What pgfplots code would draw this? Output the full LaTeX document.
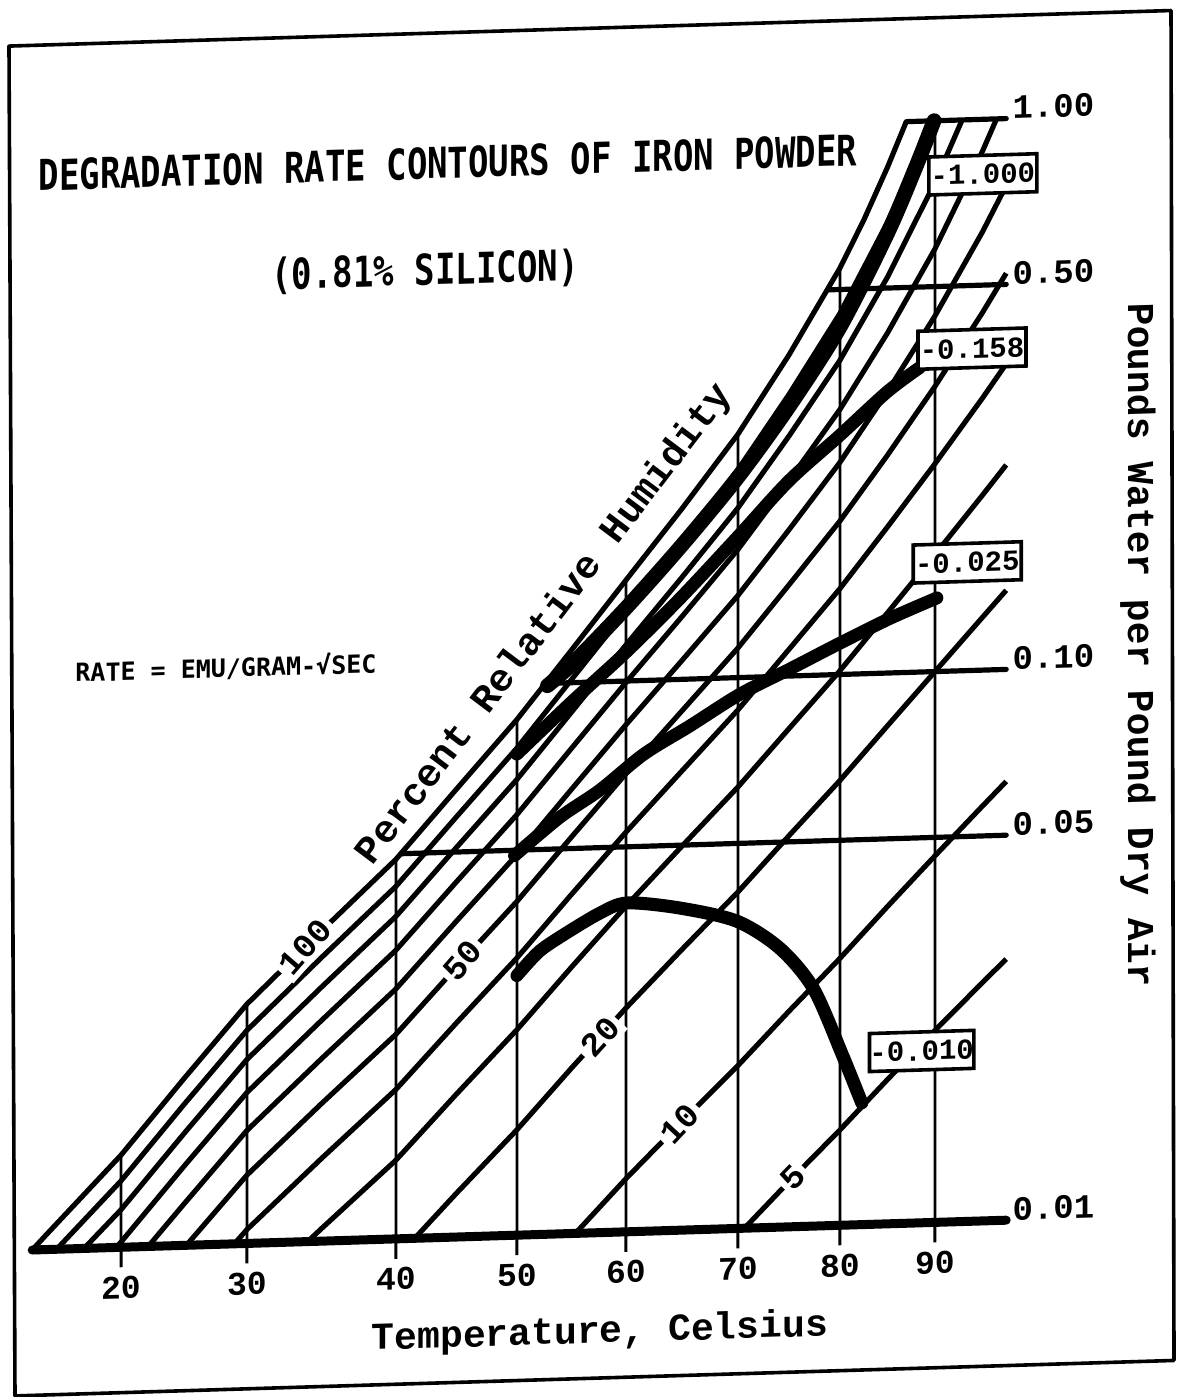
\documentclass[border=0pt]{standalone}
\usepackage{fontspec}
\usepackage{graphicx}
\usepackage{pgfplots}
\pgfplotsset{compat=1.18}
\newfontfamily\lmono{Liberation Mono}
\newfontfamily\dvmono{DejaVu Sans Mono}
\tikzset{
  rh/.style={black, line width=2.6pt, line join=round},
  vg/.style={black, line width=1.4pt},
  hg/.style={black, line width=2.6pt, line cap=round},
  ct/.style={black, line width=6.5pt, line cap=round, line join=round, smooth},
  bx/.style={draw, fill=white, line width=1.8pt, inner sep=0pt, minimum width=54pt, minimum height=19pt, font=\lmono\bfseries\fontsize{14.5}{14.5}\selectfont},
  rl/.style={fill=white, inner sep=2pt, font=\lmono\bfseries\fontsize{17}{17}\selectfont},
  yl/.style={anchor=west, inner sep=0pt, xshift=3pt, yshift=5.5pt, font=\lmono\bfseries\fontsize{17}{17}\selectfont},
}
\begin{document}
\begin{tikzpicture}
\useasboundingbox (0,0) rectangle (594.5pt,-698.5pt);
\begin{scope}[transform canvas={cm={1,0.0306,0,1,(0pt,-9.18pt)}}]
\begin{axis}[
  at={(16.1pt,-616.3pt)}, anchor=south west,
  scale only axis, width=487pt, height=550.8pt,
  x coord trafo/.code={\pgfmathparse{121+12.6*(#1-20)+2.3*min(#1-20,0)+2.3*max(#1-30,0)-2.8*max(#1-40,0)-1.2*max(#1-50,0)+0.3*max(#1-60,0)-1.0*max(#1-70,0)-0.7*max(#1-80,0)}},
  xmin=14.04, xmax=97.5, ymode=log, ymin=0.01, ymax=1,
  axis x line=bottom, axis y line=none,
  x axis line style={-, line width=4.5pt, line cap=round},
  xtick={20,30,40,50,60,70,80,90}, xticklabels={20,30,40,50,60,70,80,90},
  tick align=outside, major tick length=10pt,
  xtick style={line width=1.5pt, black},
  xticklabel style={font=\lmono\bfseries\fontsize{16.5}{16.5}\selectfont, yshift=-1pt},
  clip=false,
]
% relative humidity lines (100, 90, ..., 5 percent)
\addplot[rh] coordinates {(14.04,0.01) (15,0.01065) (20,0.0147) (25,0.02008) (30,0.0272) (35,0.03658) (40,0.04889) (45,0.06505) (50,0.08635) (55,0.1146) (60,0.1525) (65,0.2041) (70,0.2767) (75,0.3828) (80,0.547) (82.5,0.6659) (85,0.8283) (86.98,1)};
\addplot[rh] coordinates {(15.68,0.01) (20,0.0132) (25,0.01802) (30,0.02438) (35,0.03273) (40,0.04366) (45,0.05794) (50,0.07665) (55,0.1013) (60,0.1339) (65,0.1778) (70,0.2385) (75,0.3245) (80,0.4525) (85,0.6579) (87.5,0.812) (89.7,1)};
\addplot[rh] coordinates {(17.52,0.01) (20,0.0117) (25,0.01596) (30,0.02158) (35,0.02892) (40,0.03851) (45,0.05097) (50,0.06722) (55,0.08841) (60,0.1163) (65,0.1532) (70,0.2033) (75,0.2727) (80,0.3721) (85,0.5233) (90,0.7729) (92.86,1)};
\addplot[rh] coordinates {(19.66,0.01) (20,0.01022) (25,0.01392) (30,0.0188) (35,0.02516) (40,0.03344) (45,0.04415) (50,0.05803) (55,0.07601) (60,0.09941) (65,0.13) (70,0.1709) (75,0.2262) (80,0.3029) (85,0.4143) (90,0.5854) (95,0.875) (96.48,1)};
\addplot[rh] coordinates {(22.16,0.01) (25,0.01189) (30,0.01604) (35,0.02144) (40,0.02844) (45,0.03746) (50,0.04909) (55,0.06404) (60,0.08331) (65,0.1082) (70,0.141) (75,0.1843) (80,0.2428) (85,0.3243) (90,0.4423) (95,0.6246) (97.5,0.756)};
\addplot[rh] coordinates {(25.19,0.01) (30,0.01331) (35,0.01777) (40,0.02352) (45,0.03091) (50,0.04037) (55,0.05246) (60,0.06791) (65,0.08765) (70,0.1132) (75,0.1464) (80,0.19) (85,0.2486) (90,0.3295) (95,0.4457) (97.5,0.5239)};
\addplot[rh] coordinates {(29,0.01) (30,0.0106) (35,0.01413) (40,0.01868) (45,0.02448) (50,0.03188) (55,0.04127) (60,0.05317) (65,0.0682) (70,0.08737) (75,0.1118) (80,0.1432) (85,0.1842) (90,0.2384) (95,0.3118) (97.5,0.3587)};
\addplot[rh] coordinates {(34.07,0.01) (35,0.01054) (40,0.0139) (45,0.01818) (50,0.02361) (55,0.03045) (60,0.03904) (65,0.04979) (70,0.06331) (75,0.08026) (80,0.1016) (85,0.1286) (90,0.1631) (95,0.2078) (97.5,0.2351)};
\addplot[rh] coordinates {(41.55,0.01) (45,0.01201) (50,0.01554) (55,0.01997) (60,0.02549) (65,0.03233) (70,0.04082) (75,0.0513) (80,0.06422) (85,0.08021) (90,0.1) (95,0.1247) (97.5,0.1392)};
\addplot[rh] coordinates {(55.36,0.01) (60,0.01249) (65,0.01575) (70,0.01976) (75,0.02463) (80,0.03053) (85,0.03768) (90,0.04629) (95,0.05665) (97.5,0.0626)};
\addplot[rh] coordinates {(70.64,0.01) (75,0.01208) (80,0.0149) (85,0.01828) (90,0.02231) (95,0.02709) (97.5,0.0298)};
% temperature lines
\addplot[vg] coordinates {(20,0.01) (20,0.0147)};
\addplot[vg] coordinates {(30,0.01) (30,0.0272)};
\addplot[vg] coordinates {(40,0.01) (40,0.04889)};
\addplot[vg] coordinates {(50,0.01) (50,0.08635)};
\addplot[vg] coordinates {(60,0.01) (60,0.1525)};
\addplot[vg] coordinates {(70,0.01) (70,0.2767)};
\addplot[vg] coordinates {(80,0.01) (80,0.547)};
\addplot[vg] coordinates {(90,0.01) (90,1)};
% moisture lines
\addplot[hg] coordinates {(40.4,0.05) (97.5,0.05)};
\addplot[hg] coordinates {(52.75,0.1) (97.5,0.1)};
\addplot[hg] coordinates {(78.81,0.5) (97.5,0.5)};
\addplot[hg] coordinates {(86.98,1) (97.5,1)};
% degradation rate contours
\addplot[ct] coordinates {(50.0,0.02961) (52,0.0326) (54.2,0.03483) (57.6,0.03803) (60.1,0.03954) (64.8,0.03846) (69.9,0.03613) (74.1,0.03208) (77.4,0.02699) (80.3,0.02029) (82.3,0.01663)};
\addplot[ct] coordinates {(49.8,0.0489) (53.9,0.057) (57.6,0.0636) (61.6,0.0735) (65.7,0.0822) (70.2,0.0933) (75.1,0.103) (80,0.114) (85.3,0.1257) (90.2,0.136)};
\addplot[ct] coordinates {(50,0.07474) (55,0.09222) (60,0.1128) (65,0.1414) (70,0.1804) (75,0.2262) (80,0.2719) (85,0.3243) (88.4,0.3572)};
\addplot[ct, line width=7.5pt] coordinates {(52.8,0.0991) (55,0.1079) (60,0.1357) (65,0.1753) (70,0.2312) (75,0.3083) (80,0.4271) (85,0.6284) (88,0.8274) (89.9,1)};
% labels
\node[rl, rotate=48] at (axis cs:33.9,0.03428) {100};
\node[rl, rotate=48] at (axis cs:45.5,0.03175) {50};
\node[rl, rotate=47] at (axis cs:57.6,0.02267) {20};
\node[rl, rotate=46] at (axis cs:64.8,0.0156) {10};
\node[rl, rotate=45] at (axis cs:75.4,0.01229) {5};
\node[bx] at (axis cs:95.05,0.7946) {-1.000};
\node[bx] at (axis cs:93.9,0.384) {-0.158};
\node[bx] at (axis cs:93.4,0.1572) {-0.025};
\node[bx, minimum width=52pt] at (axis cs:88.6,0.02051) {-0.010};
\node[yl] at (axis cs:97.5,1) {1.00};
\node[yl] at (axis cs:97.5,0.5) {0.50};
\node[yl] at (axis cs:97.5,0.1) {0.10};
\node[yl] at (axis cs:97.5,0.05) {0.05};
\node[yl] at (axis cs:97.5,0.01) {0.01};
\end{axis}
\begin{scope}[x=0.5pt,y=-0.5pt]
\draw[line width=1.8pt, line join=round] (9,28) -- (1171,28) -- (1174,1378) -- (15,1378) -- cycle;
\node[inner sep=0pt, font=\dvmono\bfseries\fontsize{17}{17}\selectfont] at (448,158) {\scalebox{1}[1.25]{DEGRADATION RATE CONTOURS OF IRON POWDER}};
\node[inner sep=0pt, font=\dvmono\bfseries\fontsize{17}{17}\selectfont] at (425,266.5) {\scalebox{1}[1.25]{(0.81\% SILICON)}};
\node[anchor=west, inner sep=0pt, font=\dvmono\bfseries\fontsize{12.5}{12.5}\selectfont] at (75,656.5) {RATE = EMU/GRAM-√SEC};
\node[inner sep=0pt, font=\lmono\bfseries\fontsize{19}{19}\selectfont] at (600,1333) {Temperature, Celsius};
\node[inner sep=0pt, rotate=-90, font=\lmono\bfseries\fontsize{19}{19}\selectfont] at (1138,661.5) {Pounds Water per Pound Dry Air};
\node[inner sep=0pt, rotate=52, font=\lmono\bfseries\fontsize{19.5}{19.5}\selectfont] at (545,623) {Percent Relative Humidity};
\end{scope}
\end{scope}
\end{tikzpicture}
\end{document}
